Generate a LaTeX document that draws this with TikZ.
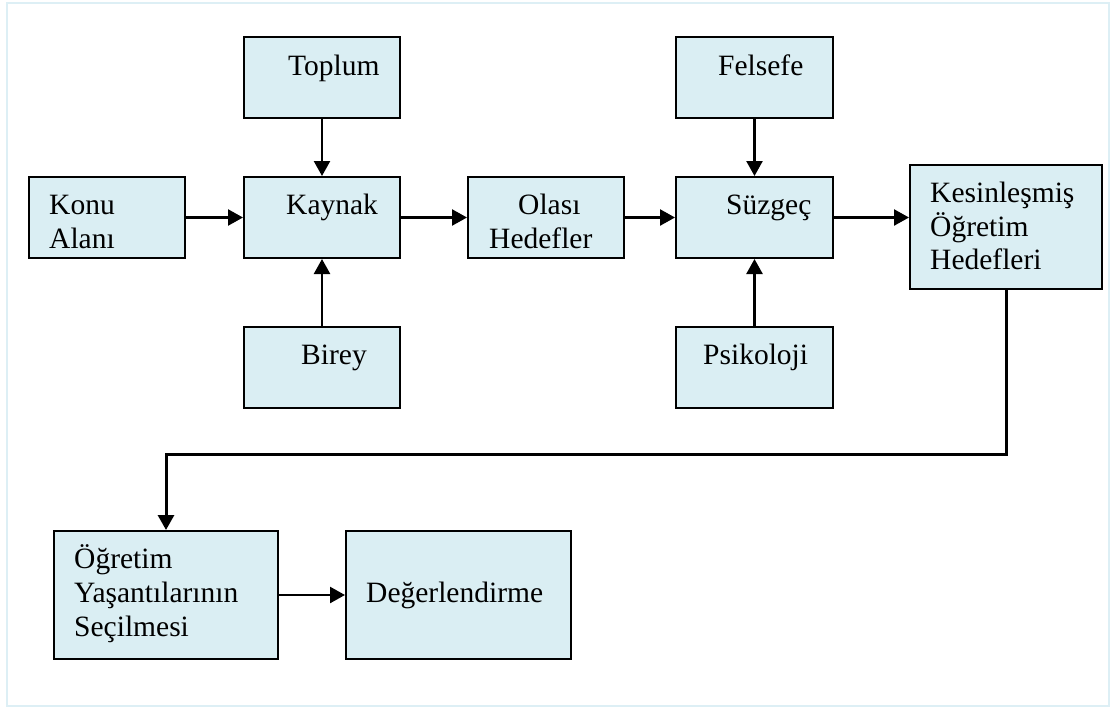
\documentclass[tikz,border=0pt]{standalone}
\usepackage{fontspec}
\setmainfont{Liberation Serif}
\usetikzlibrary{arrows.meta}
\definecolor{boxfill}{HTML}{DAEEF3}
\definecolor{frame}{HTML}{DDEFF5}
\begin{document}
\begin{tikzpicture}[x=1pt,y=-1pt,
  box/.style={draw=black,line width=2pt,fill=boxfill,inner sep=0pt,minimum height=81pt,minimum width=156pt},
  txt/.style={anchor=base west,inner sep=0pt,font=\fontsize{29.5}{34}\selectfont},
  arr/.style={line width=2.4pt,-{Triangle[length=15pt,width=16pt]}},
  bigarr/.style={line width=3pt,-{Triangle[length=15pt,width=16pt]}}]
\useasboundingbox (0,0) rectangle (1115,709);
\draw[frame,line width=2pt] (7,3) rectangle (1109,706);
% boxes
\node[box] (toplum) at (322,77.5) {};
\node[box,minimum width=157pt] (felsefe) at (754.5,77.5) {};
\node[box] (konu) at (107,217.5) {};
\node[box] (kaynak) at (322,217.5) {};
\node[box] (olasi) at (546,217.5) {};
\node[box,minimum width=157pt] (suzgec) at (754.5,217.5) {};
\node[box,minimum width=192pt,minimum height=124pt] (kesin) at (1006,227) {};
\node[box] (birey) at (322,367.5) {};
\node[box,minimum width=157pt] (psiko) at (754.5,367.5) {};
\node[box,minimum width=224pt,minimum height=128pt] (ogretim) at (166,595) {};
\node[box,minimum width=225pt,minimum height=128pt] (deger) at (458.5,595) {};
% texts
\node[txt] (t1) at (288,75) {Toplum};
\node[txt] (t2) at (718,75) {Felsefe};
\node[txt] (t3a) at (49,214) {Konu};
\node[txt] (t3b) at (49,248) {Alanı};
\node[txt] (t4) at (286,214) {Kaynak};
\node[txt] (t5a) at (518,214) {Olası};
\node[txt] (t5b) at (489,248) {Hedefler};
\node[txt] (t6) at (726,214) {Süzgeç};
\node[txt] (t7a) at (930,202) {Kesinleşmiş};
\node[txt] (t7b) at (930,236) {Öğretim};
\node[txt] (t7c) at (930,269) {Hedefleri};
\node[txt] (t8) at (301,364) {Birey};
\node[txt] (t9) at (703,364) {Psikoloji};
\node[txt] (t10a) at (74,568) {Öğretim};
\node[txt] (t10b) at (74,602) {Yaşantılarının};
\node[txt] (t10c) at (74,636) {Seçilmesi};
\node[txt] (t11) at (366,602) {Değerlendirme};
% connectors
\draw[arr] (toplum.south) -- (kaynak.north);
\draw[arr] (felsefe.south) -- (suzgec.north);
\draw[arr] (birey.north) -- (kaynak.south);
\draw[arr] (psiko.north) -- (suzgec.south);
\draw[arr] (konu.east) -- (kaynak.west);
\draw[arr] (kaynak.east) -- (olasi.west);
\draw[arr] (olasi.east) -- (suzgec.west);
\draw[arr] (suzgec.east) -- (suzgec.east -| kesin.west);
\coordinate (elbow) at (0,454);
\draw[bigarr] (kesin.south) -- (kesin.south |- elbow) -- (ogretim.north |- elbow) -- (ogretim.north);
\draw[arr] (ogretim.east) -- (ogretim.east -| deger.west);
\end{tikzpicture}
\end{document}
